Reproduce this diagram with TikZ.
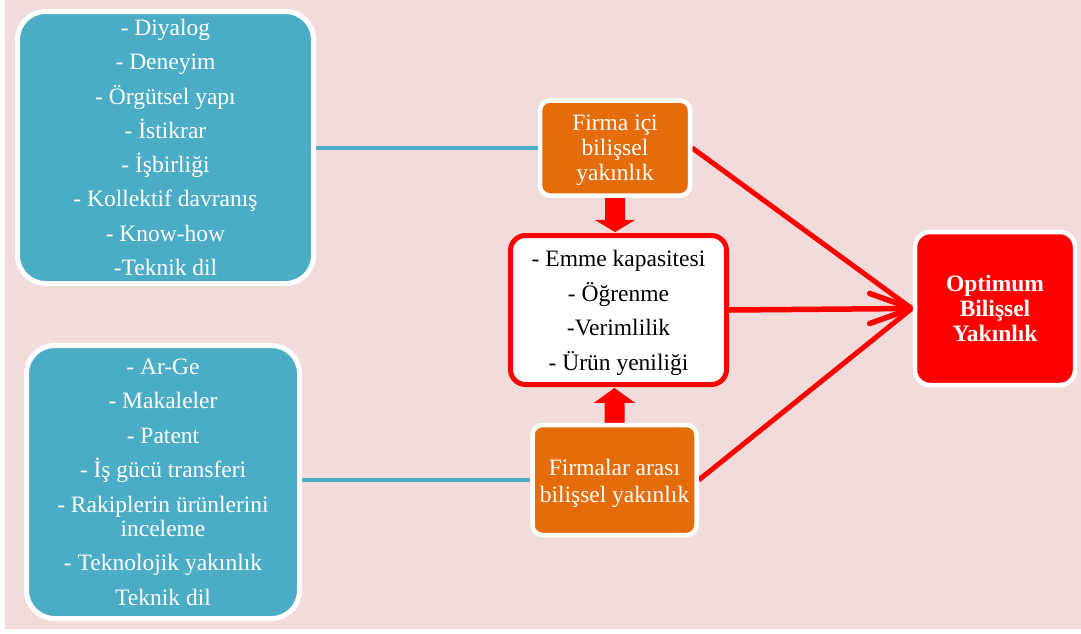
\documentclass[tikz,border=0pt]{standalone}
\usepackage{fontspec}
\setmainfont{Liberation Serif}
\usetikzlibrary{calc}
\pgfdeclarelayer{bg}
\pgfdeclarelayer{links}
\pgfsetlayers{bg,links,main}
\definecolor{pinkbg}{HTML}{F2DCDB}
\definecolor{tealbox}{HTML}{4BACC6}
\definecolor{orangebox}{HTML}{E46C0A}
\begin{document}
\begin{tikzpicture}[x=1pt,y=-1pt,
  tealnode/.style={fill=tealbox, draw=white, line width=5pt, rounded corners=28pt,
    inner sep=0pt, align=center, text=white, font=\fontsize{23.5}{34.3}\selectfont},
  orangenode/.style={fill=orangebox, draw=white, line width=4.5pt, rounded corners=10pt,
    inner sep=0pt},
  midnode/.style={fill=white, draw=red, line width=5pt, rounded corners=15pt,
    inner sep=0pt},
  goalnode/.style={fill=red, draw=white, line width=4.5pt, rounded corners=15pt,
    inner sep=0pt, align=center, text=white, font=\fontsize{23.5}{25}\selectfont\bfseries},
  boxtext/.style={inner sep=0pt, align=center},
  tealline/.style={draw=tealbox, line width=4pt},
  redline/.style={draw=red, line width=5pt},
  blockarrow/.style={fill=red}
]
\useasboundingbox (0,0) rectangle (1081,633);
\begin{pgfonlayer}{bg}
  \fill[pinkbg] (5,0) rectangle (1081,629);
\end{pgfonlayer}

% factor lists
\node[tealnode, minimum width=296pt, minimum height=272pt] (ic) at (165.5,147.5)
  {- Diyalog\\- Deneyim\\- Örgütsel yapı\\- İstikrar\\- İşbirliği\\- Kollektif davranış\\- Know-how\\-Teknik dil};
\node[tealnode, minimum width=273pt, minimum height=273pt,
      font=\fontsize{23.5}{24}\selectfont] (dis) at (163,482)
  {- Ar-Ge\\[10.5pt]- Makaleler\\[10.5pt]- Patent\\[10.5pt]- İş gücü transferi\\[10.5pt]- Rakiplerin ürünlerini\\inceleme\\[10.5pt]- Teknolojik yakınlık\\[10.5pt]Teknik dil};

% proximity types
\node[orangenode, minimum width=150pt, minimum height=95pt] (fi) at (615,148) {};
\node[boxtext, text=white, font=\fontsize{23.5}{25}\selectfont] (fitext)
  at ($(fi.center)+(0,2)$) {Firma içi\\bilişsel\\yakınlık};
\node[orangenode, minimum width=164pt, minimum height=110pt] (fa) at (614.5,480) {};
\node[boxtext, text=white, font=\fontsize{23.5}{27}\selectfont] (fatext)
  at ($(fa.center)+(0,3)$) {Firmalar arası\\bilişsel yakınlık};

% outcomes
\node[midnode, minimum width=216pt, minimum height=149pt] (mid) at (618.5,310) {};
\node[boxtext, text=black, font=\fontsize{23.5}{34.7}\selectfont] (midtext)
  at ($(mid.center)+(0,3)$) {- Emme kapasitesi\\- Öğrenme\\-Verimlilik\\- Ürün yeniliği};

% goal
\node[goalnode, minimum width=160pt, minimum height=153pt] (opt) at (995,308.5)
  {Optimum\\Bilişsel\\Yakınlık};

\coordinate (tip) at ($(opt.west)+(-1,0)$);

\begin{pgfonlayer}{links}
  % list-to-type links
  \draw[tealline] (ic.east) -- (ic.east -| fi.west);
  \draw[tealline] (fa.west) -- (dis.east |- fa.west);

  % block arrows into the outcome box
  \fill[blockarrow] ($(fi.south)+(-10,0)$) -- ($(fi.south)+(10,0)$) -- ($(fi.south)+(10,22)$)
    -- ($(fi.south)+(20.5,22)$) -- ($(fi.south |- mid.north)+(0,-1)$) -- ($(fi.south)+(-20.5,22)$)
    -- ($(fi.south)+(-10,22)$) -- cycle;
  \fill[blockarrow] ($(fa.north)+(-10,0)$) -- ($(fa.north)+(10,0)$) -- ($(fa.north)+(10,-20)$)
    -- ($(fa.north)+(20.5,-20)$) -- ($(fa.north |- mid.south)+(0,1)$) -- ($(fa.north)+(-20.5,-20)$)
    -- ($(fa.north)+(-10,-20)$) -- cycle;

  % converging links to the goal
  \draw[redline] (fi.east) -- (tip);
  \draw[redline] (fa.east) -- (tip);
  \draw[redline, line width=5.5pt] (mid.east) -- (tip);
  \draw[redline, line width=5.5pt, line cap=round, line join=round]
    ($(tip)+(-42,-15)$) -- (tip) -- ($(tip)+(-42,15)$);
\end{pgfonlayer}
\end{tikzpicture}
\end{document}
